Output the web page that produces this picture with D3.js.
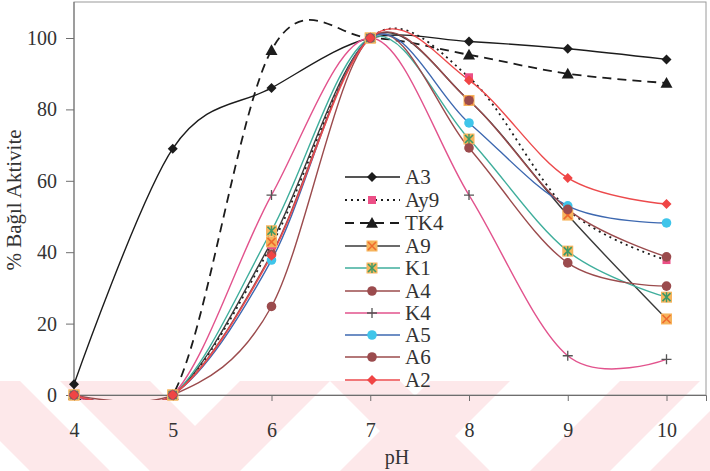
<!DOCTYPE html>
<html>
<head>
<meta charset="utf-8">
<script src="https://cdn.jsdelivr.net/npm/d3@7"></script>
<style>
  html, body { margin: 0; padding: 0; background: #fff; }
  svg { display: block; }
  text { font-family: "Liberation Serif", "Times New Roman", serif; fill: #333; }
</style>
</head>
<body>
<svg id="chart" width="710" height="471"></svg>
<script>
// pH values on the x axis
const pH = [4, 5, 6, 7, 8, 9, 10];

// relative activity (%) of each enzyme preparation
const A3  = [3, 69, 86, 100, 99, 97, 94];
const Ay9 = [0, 0, 42, 100, 89, 52, 37.8];
const TK4 = [0, 0, 96.6, 100, 95.3, 90, 87.4];
const A9  = [0, 0, 42.9, 100, 82.5, 50.4, 21.3];
const K1  = [0, 0, 46, 100, 71.7, 40.3, 27.4];
const A4  = [0, 0, 24.8, 100, 69.2, 37, 30.5];
const K4  = [0, 0, 56, 100, 56, 11, 10];
const A5  = [0, 0, 37.8, 100, 76.2, 53, 48.2];
const A6  = [0, 0, 39.5, 100, 82.5, 52, 38.7];
const A2  = [0, 0, 39, 100, 88.2, 60.8, 53.5];

const yTicks = [0, 20, 40, 60, 80, 100];
const xTicks = [4, 5, 6, 7, 8, 9, 10];

const series = [
  { name: "A3",  values: A3,  line: "#1c1c1c", dash: null,  marker: "diamond", fill: "#1c1c1c" },
  { name: "Ay9", values: Ay9, line: "#1c1c1c", dash: "2,4", marker: "square",  fill: "#ec4f86" },
  { name: "TK4", values: TK4, line: "#1c1c1c", dash: "9,6", marker: "triangle", fill: "#1c1c1c" },
  { name: "A9",  values: A9,  line: "#3a3a3a", dash: null,  marker: "xsquare", fill: "#f6b45c", mark: "#ee6a2e" },
  { name: "K1",  values: K1,  line: "#3fae9c", dash: null,  marker: "asquare", fill: "#f6b45c", mark: "#3d9a66" },
  { name: "A4",  values: A4,  line: "#9b4b4d", dash: null,  marker: "circle",  fill: "#9b4b4d" },
  { name: "K4",  values: K4,  line: "#e2538d", dash: null,  marker: "plus",    fill: "#555" },
  { name: "A5",  values: A5,  line: "#3d68b0", dash: null,  marker: "circle",  fill: "#3fc5ea" },
  { name: "A6",  values: A6,  line: "#9b4b4d", dash: null,  marker: "circle",  fill: "#9b4b4d" },
  { name: "A2",  values: A2,  line: "#ec4a4c", dash: null,  marker: "diamond", fill: "#f04545" }
];

const svg = d3.select("#chart");

// plot frame
const pLeft = 74, pRight = 706, pTop = 2, pBottom = 395;
const x = d3.scaleLinear().domain([4, 10.4]).range([pLeft, pRight]);
const y = d3.scaleLinear().domain([0, 110]).range([pBottom, pBottom - 357 * 1.1]);

// faint background watermark bands along the bottom
const wm = svg.append("g").attr("fill", "#fde8ea");
const bandTop = 381, bandBot = 471, hh = bandBot - bandTop;
const backBands = [[-60, 20], [60, 150], [330, 400]];
const fwdBands = [[240, 330], [430, 510], [620, 700], [740, 800]];
backBands.forEach(([a, b]) => {
  wm.append("path").attr("d", `M${a},${bandTop}L${b},${bandTop}L${b + hh},${bandBot}L${a + hh},${bandBot}Z`);
});
fwdBands.forEach(([a, b]) => {
  wm.append("path").attr("d", `M${a},${bandTop}L${b},${bandTop}L${b - hh},${bandBot}L${a - hh},${bandBot}Z`);
});

// frame
svg.append("rect")
  .attr("x", pLeft).attr("y", pTop)
  .attr("width", pRight - pLeft).attr("height", pBottom - pTop)
  .attr("fill", "none").attr("stroke", "#9a9a9a").attr("stroke-width", 1);

// axes
const yAxis = d3.axisLeft(y).tickValues(yTicks).tickSize(8).tickPadding(9).tickFormat(d3.format("d"));
const gy = svg.append("g").attr("transform", `translate(${pLeft},0)`).call(yAxis);
const xAxis = d3.axisBottom(x).tickValues(xTicks).tickSize(6).tickPadding(22).tickFormat(d3.format("d"));
const gx = svg.append("g").attr("transform", `translate(0,${pBottom})`).call(xAxis);
[gx, gy].forEach(g => {
  g.select(".domain").attr("stroke", "#6e6e6e");
  g.selectAll(".tick line").attr("stroke", "#6e6e6e");
  g.selectAll(".tick text")
    .style("font-family", '"Liberation Serif", serif')
    .style("font-size", "20px").attr("fill", "#333");
});
gy.select(".domain").attr("d", `M0,${pBottom}V${pTop}`);

svg.append("text")
  .attr("transform", `translate(397,464)`)
  .attr("text-anchor", "middle").style("font-size", "20px").text("pH");
svg.append("text")
  .attr("transform", `translate(21,200) rotate(-90)`)
  .attr("text-anchor", "middle").style("font-size", "21px").text("% Bağıl Aktivite");

// curves, smoothed like spreadsheet charts
svg.append("clipPath").attr("id", "plotClip").append("rect")
  .attr("x", pLeft).attr("y", pTop).attr("width", pRight - pLeft).attr("height", pBottom - pTop + 5);

const line = d3.line()
  .x((d, i) => x(pH[i]))
  .y(d => y(d))
  .curve(d3.curveCardinal.tension(0));

const plot = svg.append("g").attr("clip-path", "url(#plotClip)");
const markers = svg.append("g");

function drawMarker(g, s, cx, cy) {
  const m = g.append("g").attr("transform", `translate(${cx},${cy})`);
  if (s.marker === "diamond") {
    const r = 5;
    m.append("path").attr("d", `M0,${-r}L${r},0L0,${r}L${-r},0Z`).attr("fill", s.fill);
  } else if (s.marker === "square") {
    const r = 4;
    m.append("rect").attr("x", -r).attr("y", -r).attr("width", 2 * r).attr("height", 2 * r).attr("fill", s.fill);
  } else if (s.marker === "triangle") {
    const r = 6;
    m.append("path").attr("d", `M0,${-r}L${r},${r * 0.8}L${-r},${r * 0.8}Z`).attr("fill", s.fill);
  } else if (s.marker === "xsquare" || s.marker === "asquare") {
    const r = 5.5, c = 4;
    m.append("rect").attr("x", -r).attr("y", -r).attr("width", 2 * r).attr("height", 2 * r).attr("fill", s.fill);
    m.append("path").attr("d", `M${-c},${-c}L${c},${c}M${c},${-c}L${-c},${c}`)
      .attr("stroke", s.mark).attr("stroke-width", 1.6);
    if (s.marker === "asquare") {
      m.append("path").attr("d", `M0,${-c - 1}L0,${c + 1}`).attr("stroke", s.mark).attr("stroke-width", 1.4);
    }
  } else if (s.marker === "circle") {
    m.append("circle").attr("r", 4.8).attr("fill", s.fill);
  } else if (s.marker === "plus") {
    const r = 5;
    m.append("path").attr("d", `M${-r},0L${r},0M0,${-r}L0,${r}`).attr("stroke", s.fill).attr("stroke-width", 1.3);
  }
}

series.forEach(s => {
  plot.append("path")
    .attr("d", line(s.values))
    .attr("fill", "none")
    .attr("stroke", s.line)
    .attr("stroke-width", s.dash ? 1.8 : 1.4)
    .attr("stroke-dasharray", s.dash);
  s.values.forEach((v, i) => drawMarker(markers, s, x(pH[i]), y(v)));
});

// legend
const lg = svg.append("g");
const rowY = [177, 200, 223, 246, 268, 291, 313, 335, 357, 380];
series.forEach((s, i) => {
  const ry = rowY[i];
  lg.append("line").attr("x1", 345).attr("x2", 400).attr("y1", ry).attr("y2", ry)
    .attr("stroke", s.line).attr("stroke-width", s.dash ? 1.8 : 1.4).attr("stroke-dasharray", s.dash);
  drawMarker(lg, s, 372, ry);
  lg.append("text").attr("x", 405).attr("y", ry + 7).style("font-size", "21px").text(s.name);
});
</script>
</body>
</html>
